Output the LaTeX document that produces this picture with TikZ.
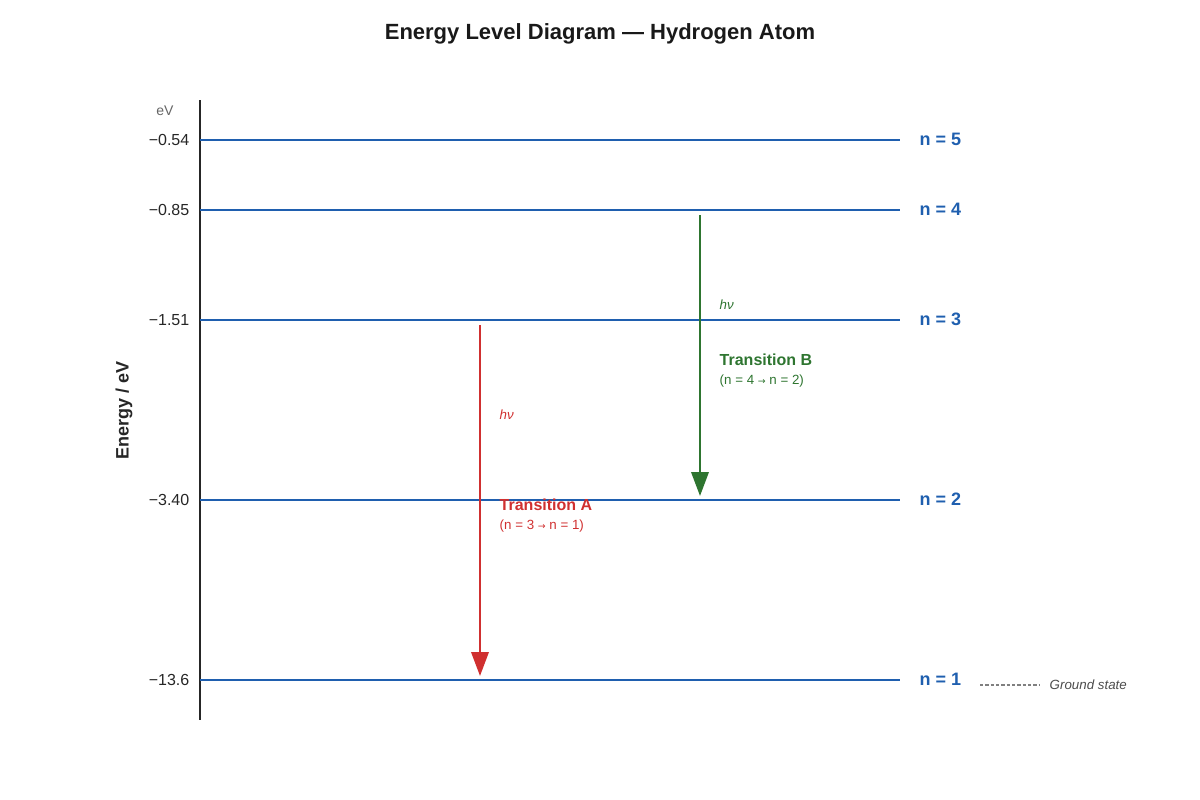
\documentclass[tikz,border=0pt]{standalone}
\usepackage{fontspec}
\setmainfont{Liberation Sans}
\usetikzlibrary{arrows.meta}
\definecolor{lvl}{HTML}{1F5FAF}
\definecolor{red1}{HTML}{D03030}
\definecolor{grn}{HTML}{2E7530}
\begin{document}
\begin{tikzpicture}[x=0.75pt,y=-0.75pt,
  level/.style={draw=lvl,line width=1.9pt},
  elab/.style={anchor=east,font=\fontsize{12}{14}\selectfont,text=black!85},
  nlab/.style={anchor=west,font=\fontsize{13.5}{16}\selectfont\bfseries,text=lvl},
  trans/.style={line width=1.9pt},
  small/.style={anchor=west,font=\fontsize{10}{12}\selectfont}]
\useasboundingbox (0,0) rectangle (1200,800);
\node[font=\fontsize{16.5}{20}\selectfont\bfseries,text=black!90] (title) at (600,34) {Energy Level Diagram — Hydrogen Atom};
\coordinate (axT) at (200,100); \coordinate (axB) at (200,720);
\draw[line width=1.1pt,black!85] (axT) -- (axB);
\node[font=\fontsize{10.5}{12}\selectfont,text=black!60] (ev) at (165,111) {eV};
\node[rotate=90,font=\fontsize{13.5}{16}\selectfont\bfseries,text=black!85] (ylab) at (124,410) {Energy / eV};
\foreach \y/\e/\n in {140/{−0.54}/5,210/{−0.85}/4,320/{−1.51}/3,500/{−3.40}/2,680/{−13.6}/1}{
  \coordinate (L\n) at (200,\y); \coordinate (R\n) at (900,\y);
  \draw[level] (L\n) -- (R\n);
  \node[elab] (e\n) at (194,\y) {\e};
  \node[nlab] (n\n) at (915,\y-1) {n = \n};
}
% Transition A
\coordinate (a1) at (480,325); \coordinate (a2) at (480,676);
\draw[trans,red1,-{Triangle[length=18pt,width=13pt]}] (a1) -- (a2);
\node[small,text=red1,font=\fontsize{10}{12}\selectfont\itshape] (hA) at (495,415) {hν};
\node[small,text=red1,font=\fontsize{12}{14}\selectfont\bfseries] (tA) at (495,505) {Transition A};
\node[small,text=red1] (sA) at (495,526) {(n = 3 {\fontspec{DejaVu Sans}\scriptsize →} n = 1)};
% Transition B
\coordinate (b1) at (700,215); \coordinate (b2) at (700,496);
\draw[trans,grn,-{Triangle[length=18pt,width=13pt]}] (b1) -- (b2);
\node[small,text=grn,font=\fontsize{10}{12}\selectfont\itshape] (hB) at (715,305) {hν};
\node[small,text=grn,font=\fontsize{12}{14}\selectfont\bfseries] (tB) at (715,360) {Transition B};
\node[small,text=grn] (sB) at (715,381) {(n = 4 {\fontspec{DejaVu Sans}\scriptsize →} n = 2)};
% ground state
\coordinate (g1) at (980,685); \coordinate (g2) at (1040,685);
\draw[black!50,line width=0.8pt,dash pattern=on 2.5pt off 1.5pt] (g1) -- (g2);
\node[small,text=black!70,font=\fontsize{10}{12}\selectfont\itshape] (gs) at (1045,685) {Ground state};
\end{tikzpicture}
\end{document}
